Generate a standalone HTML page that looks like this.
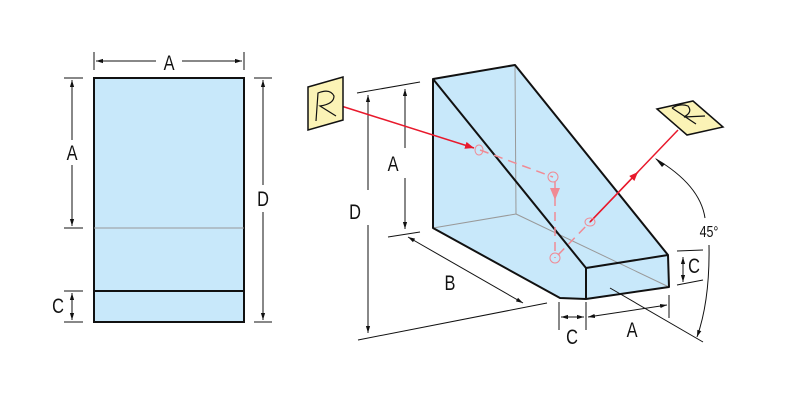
<!DOCTYPE html>
<html><head><meta charset="utf-8"><style>html,body{margin:0;padding:0;background:#fff}svg{display:block}text{font-family:"Liberation Sans Narrow","Liberation Sans",sans-serif;font-size:21px;fill:#111;text-anchor:middle;transform-box:fill-box;transform-origin:center;transform:scaleX(0.78)}</style></head><body>
<svg width="787" height="408" viewBox="0 0 787 408" xmlns="http://www.w3.org/2000/svg">
<defs>
<marker id="ar" viewBox="0 0 10 10" refX="10" refY="5" markerWidth="7" markerHeight="7" orient="auto-start-reverse"><path d="M0,2L10,5L0,8z" fill="#111"/></marker>
<marker id="rr" viewBox="0 0 10 10" refX="10" refY="5" markerWidth="6" markerHeight="6" orient="auto"><path d="M0,1L10,5L0,9z" fill="#e8192c"/></marker>
</defs>
<rect x="94" y="78" width="150" height="244" fill="#c8e8fa" stroke="#111" stroke-width="2"/>
<line x1="94" y1="228" x2="244" y2="228" stroke="#999" stroke-width="1"/>
<line x1="94" y1="291" x2="244" y2="291" stroke="#111" stroke-width="2"/>
<g stroke="#111" stroke-width="1">
<line x1="94" y1="52" x2="94" y2="70"/><line x1="244" y1="52" x2="244" y2="70"/>
<line x1="96" y1="61" x2="156" y2="61" marker-start="url(#ar)"/><line x1="182" y1="61" x2="242" y2="61" marker-end="url(#ar)"/>
<line x1="64" y1="78" x2="83" y2="78"/><line x1="64" y1="228" x2="83" y2="228"/>
<line x1="72" y1="80" x2="72" y2="140" marker-start="url(#ar)"/><line x1="72" y1="165" x2="72" y2="226" marker-end="url(#ar)"/>
<line x1="64" y1="291" x2="83" y2="291"/><line x1="64" y1="322" x2="83" y2="322"/>
<line x1="72" y1="293" x2="72" y2="320" marker-start="url(#ar)" marker-end="url(#ar)"/>
<line x1="254" y1="78" x2="272" y2="78"/><line x1="254" y1="322" x2="272" y2="322"/>
<line x1="263" y1="80" x2="263" y2="185" marker-start="url(#ar)"/><line x1="263" y1="212" x2="263" y2="320" marker-end="url(#ar)"/>
</g>
<text x="169" y="70">A</text><text x="72" y="160">A</text><text x="58" y="313">C</text><text x="263" y="206">D</text>
<polygon points="433,79 515,65 668,255 669,287 586,299 560,298 433,228" fill="#c8e8fa"/>
<g stroke="#999" stroke-width="1" fill="none">
<line x1="515" y1="65" x2="516" y2="214"/><line x1="433" y1="228" x2="516" y2="214"/><line x1="516" y1="214" x2="669" y2="287"/>
</g>
<g stroke="#111" stroke-width="2" fill="none" stroke-linejoin="round">
<polygon points="433,79 515,65 668,255 586,268"/>
<polyline points="433,79 433,228 560,298 586,299 669,287 668,255"/>
<line x1="586" y1="268" x2="586" y2="299"/>
</g>
<g stroke="#111" stroke-width="1" fill="none">
<line x1="357" y1="93" x2="420" y2="82"/>
<line x1="358" y1="340" x2="547" y2="303"/>
<line x1="368" y1="95" x2="368" y2="190" marker-start="url(#ar)"/><line x1="368" y1="225" x2="368" y2="333" marker-end="url(#ar)"/>
<line x1="388" y1="237" x2="420" y2="232"/>
<line x1="405" y1="89" x2="405" y2="148" marker-start="url(#ar)"/><line x1="405" y1="178" x2="405" y2="229" marker-end="url(#ar)"/>
<line x1="408" y1="237" x2="523" y2="303" marker-start="url(#ar)" marker-end="url(#ar)"/>
<line x1="559" y1="302" x2="559" y2="330"/><line x1="586" y1="302" x2="586" y2="330"/>
<line x1="561" y1="317" x2="584" y2="317" marker-start="url(#ar)" marker-end="url(#ar)"/>
<line x1="588" y1="317" x2="667" y2="305" marker-start="url(#ar)" marker-end="url(#ar)"/>
<line x1="669" y1="295" x2="669" y2="318"/>
<line x1="677" y1="251" x2="703" y2="250"/><line x1="677" y1="285" x2="703" y2="280"/>
<line x1="683" y1="257" x2="683" y2="282" marker-start="url(#ar)" marker-end="url(#ar)"/>
<line x1="610" y1="288" x2="703" y2="342"/>
<path d="M656,159 Q700,185 705,218" /><path d="M709,245 Q710,300 697,337" marker-end="url(#ar)"/>
</g>
<path d="M665,164 L655,158 L662,167z" fill="#111"/>
<text x="355" y="219">D</text><text x="393" y="171">A</text><text x="450" y="290">B</text>
<text x="572" y="344">C</text><text x="632" y="337">A</text><text x="694" y="273">C</text>
<text x="709" y="237" style="font-size:16px">45°</text>
<g stroke="#e8192c" stroke-width="1.5" fill="none">
<line x1="338" y1="105" x2="474" y2="148" marker-end="url(#rr)"/>
<line x1="590" y1="222" x2="678" y2="130"/>
<line x1="590" y1="222" x2="638" y2="172" marker-end="url(#rr)"/>
</g>
<g stroke="#f08a94" stroke-width="1.5" fill="none" stroke-dasharray="9,6">
<line x1="480" y1="150" x2="553" y2="177"/>
<line x1="555" y1="182" x2="555" y2="258"/>
<line x1="558" y1="255" x2="590" y2="222"/>
</g>
<path d="M550,188 L560,188 L555,200z" fill="#f08a94"/>
<g stroke="#f08a94" stroke-width="1" fill="none">
<ellipse cx="479" cy="150" rx="4" ry="5"/><ellipse cx="553" cy="177" rx="5" ry="5"/><ellipse cx="555" cy="258" rx="5" ry="5"/><ellipse cx="590" cy="222" rx="5" ry="4"/>
</g>
<polygon points="308,87 343,77 343,120 308,130" fill="#fbf3b6" stroke="#111" stroke-width="1.5"/>
<path d="M316,121 L318,93 Q330,88 334,96 Q334,104 320,106 L336,116" stroke="#111" stroke-width="1.2" fill="none"/>
<polygon points="657,109 693,101 723,127 687,135" fill="#fbf3b6" stroke="#111" stroke-width="1.5"/>
<path d="M672,108 L696,124 M672,108 Q680,103 688,106 Q693,112 684,117 L705,116" stroke="#111" stroke-width="1.2" fill="none"/>
</svg>
</body></html>
